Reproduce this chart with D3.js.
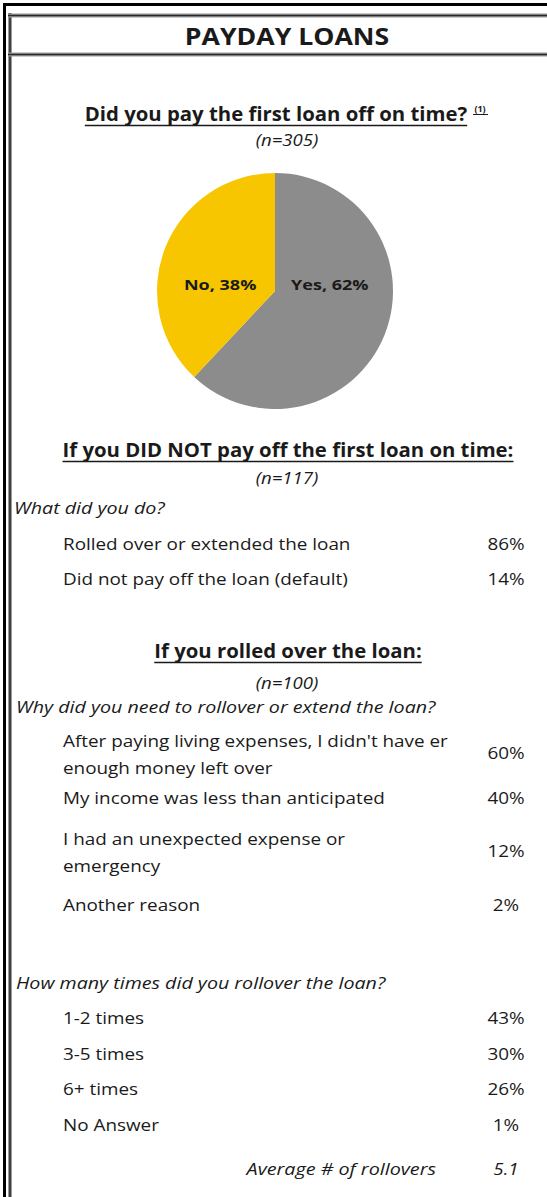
<!DOCTYPE html>
<html>
<head>
<meta charset="utf-8">
<script src="https://cdn.jsdelivr.net/npm/d3@7/dist/d3.min.js"></script>
<style>
  html, body { margin: 0; padding: 0; background: #fff; }
  svg { display: block; }
  text { font-family: "Open Sans", Lato, "DejaVu Sans", sans-serif; fill: #1a1a1a; }
</style>
</head>
<body>
<svg id="chart" width="547" height="1197"></svg>
<script>
// Survey results: payday loan repayment
const pieLabels = ["Yes", "No"];
const pieValues = [62, 38];

const didNotPayItems = ["Rolled over or extended the loan", "Did not pay off the loan (default)"];
const didNotPayValues = [86, 14];

const reasonItems = [
  ["After paying living expenses, I didn't have er", "enough money left over"],
  ["My income was less than anticipated"],
  ["I had an unexpected expense or", "emergency"],
  ["Another reason"]
];
const reasonValues = [60, 40, 12, 2];

const countItems = ["1-2 times", "3-5 times", "6+ times", "No Answer"];
const countValues = [43, 30, 26, 1];

const averageRollovers = 5.1;

const W = 547, H = 1197;
const svg = d3.select("#chart");
svg.append("rect").attr("width", W).attr("height", H).attr("fill", "#fff");

// Frame: heavy outer rule, then the inner double-rule box with the title band
const frame = svg.append("g");
frame.append("line").attr("x1", 4.5).attr("x2", 4.5).attr("y1", 3).attr("y2", H)
  .attr("stroke", "#000").attr("stroke-width", 3);
frame.append("line").attr("x1", 3).attr("x2", W).attr("y1", 4.5).attr("y2", 4.5)
  .attr("stroke", "#000").attr("stroke-width", 3);
function doubleRule(x1, y1, x2, y2) {
  frame.append("line").attr("x1", x1).attr("y1", y1).attr("x2", x2).attr("y2", y2)
    .attr("stroke", "#9a9a9a").attr("stroke-width", 4);
  frame.append("line").attr("x1", x1).attr("y1", y1).attr("x2", x2).attr("y2", y2)
    .attr("stroke", "#2a2a2a").attr("stroke-width", 1.6);
}
doubleRule(10, 13, 10, H);
doubleRule(8, 15.5, W, 15.5);
doubleRule(8, 54.5, W, 54.5);

const cx = 287;
// Text helper: the sheet's font sets wider than Open Sans, so each style gets a
// horizontal widening factor applied through textLength.
function text(x, y, s, opts = {}) {
  const t = svg.append("text").attr("x", x).attr("y", y).text(s)
    .attr("font-size", opts.size || 16)
    .attr("font-weight", opts.bold ? 700 : 400)
    .attr("font-style", opts.italic ? "italic" : "normal")
    .attr("text-anchor", opts.anchor || "start");
  const k = opts.widen || 1;
  const w = t.node().getComputedTextLength() * k;
  if (k !== 1) t.attr("textLength", w).attr("lengthAdjust", "spacingAndGlyphs");
  t.datum({ width: w });
  return t;
}
function heading(x, y, s, size) {
  const t = text(x, y, s, { size: size, bold: true, anchor: "middle", widen: 1.07 });
  const w = t.datum().width;
  svg.append("line").attr("x1", x - w / 2).attr("x2", x + w / 2)
    .attr("y1", y + 4.5).attr("y2", y + 4.5).attr("stroke", "#1a1a1a").attr("stroke-width", 1.3);
  return t;
}

const HEAD = 19, BODY = 17, ITAL = 16.5, NOTE = 15.5;
const body = (x, y, s, anchor) => text(x, y, s, { size: BODY, anchor: anchor, widen: 1.11 });
const question = (x, y, s) => text(x, y, s, { size: ITAL, italic: true, widen: 1.19 });
const note = (y, s) => text(cx, y, s, { size: NOTE, italic: true, anchor: "middle", widen: 1.2 });
const pct = d3.format(".0%");

// Title band
text(cx, 45, "PAYDAY LOANS", { size: 24, bold: true, anchor: "middle", widen: 1.11 });

// Section 1: pie
heading(276, 121, "Did you pay the first loan off on time?", HEAD);
text(480, 112, "(1)", { size: 9, bold: true, anchor: "middle" });
svg.append("line").attr("x1", 473).attr("x2", 488).attr("y1", 114.5).attr("y2", 114.5)
  .attr("stroke", "#1a1a1a").attr("stroke-width", 1);
note(146, "(n=305)");

const pieData = pieLabels.map((l, i) => ({ label: l, value: pieValues[i] }));
const color = d3.scaleOrdinal().domain(pieLabels).range(["#8c8c8c", "#f7c600"]);
const R = 118;
const pie = d3.pie().sort(null).value(d => d.value);
const arc = d3.arc().innerRadius(0).outerRadius(R);
const pg = svg.append("g").attr("transform", `translate(275,291)`);
const arcs = pie(pieData);
pg.selectAll("path").data(arcs).join("path")
  .attr("d", arc).attr("fill", d => color(d.data.label));
pg.selectAll("text").data(arcs).join("text")
  .attr("x", d => arc.centroid(d)[0])
  .attr("y", -1)
  .attr("text-anchor", "middle")
  .attr("font-size", 15).attr("font-weight", 700)
  .text(d => `${d.data.label}, ${d.data.value}%`)
  .each(function () {
    const w = this.getComputedTextLength() * 1.2;
    d3.select(this).attr("textLength", w).attr("lengthAdjust", "spacingAndGlyphs");
  });

// Section 2
const valX = 506;
heading(288, 457, "If you DID NOT pay off the first loan on time:", HEAD);
note(484, "(n=117)");
question(14, 514, "What did you do?");
const rows2 = [550, 585];
didNotPayItems.forEach((s, i) => {
  body(63, rows2[i], s);
  body(valX, rows2[i], pct(didNotPayValues[i] / 100), "middle");
});

// Section 3
heading(288, 658, "If you rolled over the loan:", HEAD);
note(689, "(n=100)");
question(16, 713, "Why did you need to rollover or extend the loan?");
const reasonTop = [747, 804, 845, 911];
reasonItems.forEach((lines, i) => {
  lines.forEach((s, j) => body(63, reasonTop[i] + j * 27, s));
  const vy = reasonTop[i] + (lines.length > 1 ? 11.5 : 0);
  body(valX, vy, pct(reasonValues[i] / 100), "middle");
});

// Section 4
question(16, 989, "How many times did you rollover the loan?");
countItems.forEach((s, i) => {
  const y = 1024 + i * 35.7;
  body(63, y, s);
  body(valX, y, pct(countValues[i] / 100), "middle");
});
text(436, 1175, "Average # of rollovers", { size: BODY, italic: true, anchor: "end", widen: 1.16 });
text(506, 1175, d3.format(".1f")(averageRollovers), { size: BODY, italic: true, anchor: "middle", widen: 1.1 });
</script>
</body>
</html>
